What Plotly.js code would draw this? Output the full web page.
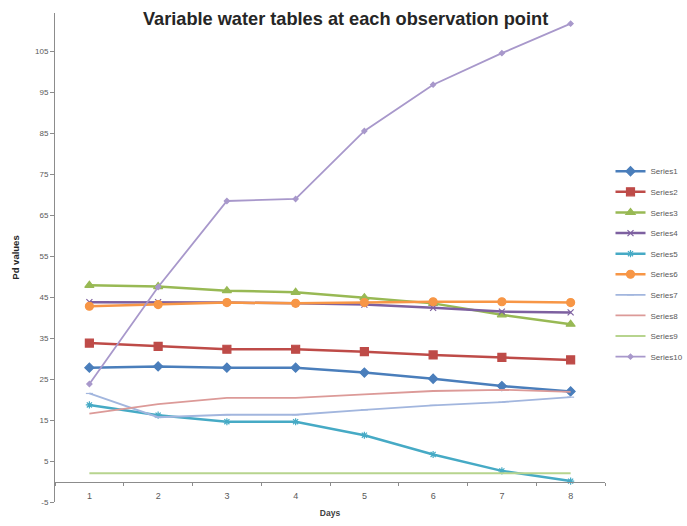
<!DOCTYPE html>
<html>
<head>
<meta charset="utf-8">
<script src="https://cdn.plot.ly/plotly-3.0.1.min.js"></script>
<style>
  html, body { margin: 0; padding: 0; background: #ffffff; }
  #chart { width: 687px; height: 526px; }
</style>
</head>
<body>
<div id="chart"></div>
<script>
// Observation days (category axis)
const days = ['1', '2', '3', '4', '5', '6', '7', '8'];

// Pd values per observation point
const series1  = [27.8, 28.1, 27.8, 27.8, 26.6, 25.1, 23.3, 22.0];
const series2  = [33.8, 33.0, 32.3, 32.3, 31.7, 30.9, 30.3, 29.7];
const series3  = [47.9, 47.6, 46.6, 46.2, 44.9, 43.5, 40.7, 38.4];
const series4  = [43.8, 43.8, 43.7, 43.5, 43.2, 42.4, 41.5, 41.3];
const series5  = [18.7, 16.2, 14.6, 14.6, 11.3, 6.6, 2.6, 0.1];
const series6  = [42.8, 43.2, 43.7, 43.5, 43.7, 43.9, 43.9, 43.7];
const series7  = [21.5, 15.7, 16.3, 16.3, 17.5, 18.6, 19.4, 20.6];
const series8  = [16.6, 18.9, 20.4, 20.4, 21.3, 22.1, 22.4, 21.9];
const series9  = [2.0, 2.0, 2.0, 2.0, 2.0, 2.0, 2.0, 2.0];
const series10 = [23.8, 47.5, 68.5, 69.0, 85.6, 96.9, 104.6, 111.8];

const seriesNames = ['Series1', 'Series2', 'Series3', 'Series4', 'Series5',
                     'Series6', 'Series7', 'Series8', 'Series9', 'Series10'];
const seriesData = [series1, series2, series3, series4, series5,
                    series6, series7, series8, series9, series10];

// Y tick values and their labels (plain hyphen for the negative one)
const yTicks = [-5, 5, 15, 25, 35, 45, 55, 65, 75, 85, 95, 105];
const yTickText = yTicks.map(v => String(v));

// Line / marker styling for each series
const styles = [
  { color: '#4a7ebb', width: 2.5, symbol: 'diamond',       size: 7 },
  { color: '#be4b48', width: 2.5, symbol: 'square',        size: 8 },
  { color: '#98b954', width: 2.5, symbol: 'triangle-up',   size: 8 },
  { color: '#7d60a0', width: 2.5, symbol: 'x-thin-open',   size: 6 },
  { color: '#46aac5', width: 2.5, symbol: 'asterisk-open', size: 6 },
  { color: '#f79646', width: 2.5, symbol: 'circle',        size: 8 },
  { color: '#a2b6de', width: 1.8, symbol: 'line-ew-open',  size: 5 },
  { color: '#dc9a98', width: 1.8, symbol: 'circle',        size: 0 },
  { color: '#b7d48e', width: 2.0, symbol: 'circle',        size: 0 },
  { color: '#a898cb', width: 1.8, symbol: 'diamond',       size: 4 }
];

const traces = seriesData.map((vals, i) => ({
  type: 'scatter',
  mode: styles[i].size > 0 ? 'lines+markers' : 'lines',
  name: seriesNames[i],
  legendgroup: seriesNames[i],
  x: days,
  y: vals,
  line: { color: styles[i].color, width: styles[i].width },
  marker: {
    symbol: styles[i].symbol,
    size: styles[i].size,
    color: styles[i].color,
    line: { color: styles[i].color, width: 1.2 }
  }
}));

const yMin = -5, yMax = 114.4;

const layout = {
  width: 687,
  height: 526,
  paper_bgcolor: '#ffffff',
  plot_bgcolor: '#ffffff',
  margin: { l: 55, r: 82, t: 13, b: 23.5, autoexpand: false },
  showlegend: true,
  font: { family: 'Liberation Sans, Arial, sans-serif', color: '#595959', size: 8 },
  title: {
    text: 'Variable water tables at each observation point',
    font: { family: 'Liberation Sans, Arial, sans-serif', size: 18.2, color: '#262626', weight: 'bold' },
    x: 0.503, xref: 'container', xanchor: 'center',
    y: 0.965, yref: 'container', yanchor: 'middle'
  },
  xaxis: {
    type: 'category',
    range: [-0.5, 7.5],
    anchor: 'free',
    position: (0 - yMin) / (yMax - yMin),
    showline: true,
    linecolor: '#8c8c8c',
    linewidth: 1,
    showgrid: false,
    zeroline: false,
    ticks: 'outside',
    tickson: 'boundaries',
    ticklen: 3,
    tickcolor: '#8c8c8c',
    ticklabelstandoff: 6,
    tickfont: { size: 9, color: '#595959' },
    title: { text: 'Days', font: { size: 8.5, color: '#404040', weight: 'bold' }, standoff: 9 }
  },
  yaxis: {
    range: [yMin, yMax],
    tickmode: 'array',
    tickvals: yTicks,
    ticktext: yTickText,
    showline: true,
    linecolor: '#8c8c8c',
    linewidth: 1,
    showgrid: false,
    zeroline: false,
    ticks: 'outside',
    ticklen: 4,
    tickcolor: '#8c8c8c',
    tickfont: { size: 8, color: '#595959' },
    title: { text: 'Pd values', font: { size: 9.5, color: '#262626', weight: 'bold' }, standoff: 13 }
  },
  legend: {
    x: 1.01, xanchor: 'left',
    y: 0.706, yanchor: 'top',
    traceorder: 'grouped',
    tracegroupgap: 1.6,
    font: { size: 8, color: '#595959' },
    bgcolor: 'rgba(0,0,0,0)',
    itemwidth: 30
  }
};

Plotly.newPlot('chart', traces, layout, { displayModeBar: false, staticPlot: true });
</script>
</body>
</html>
